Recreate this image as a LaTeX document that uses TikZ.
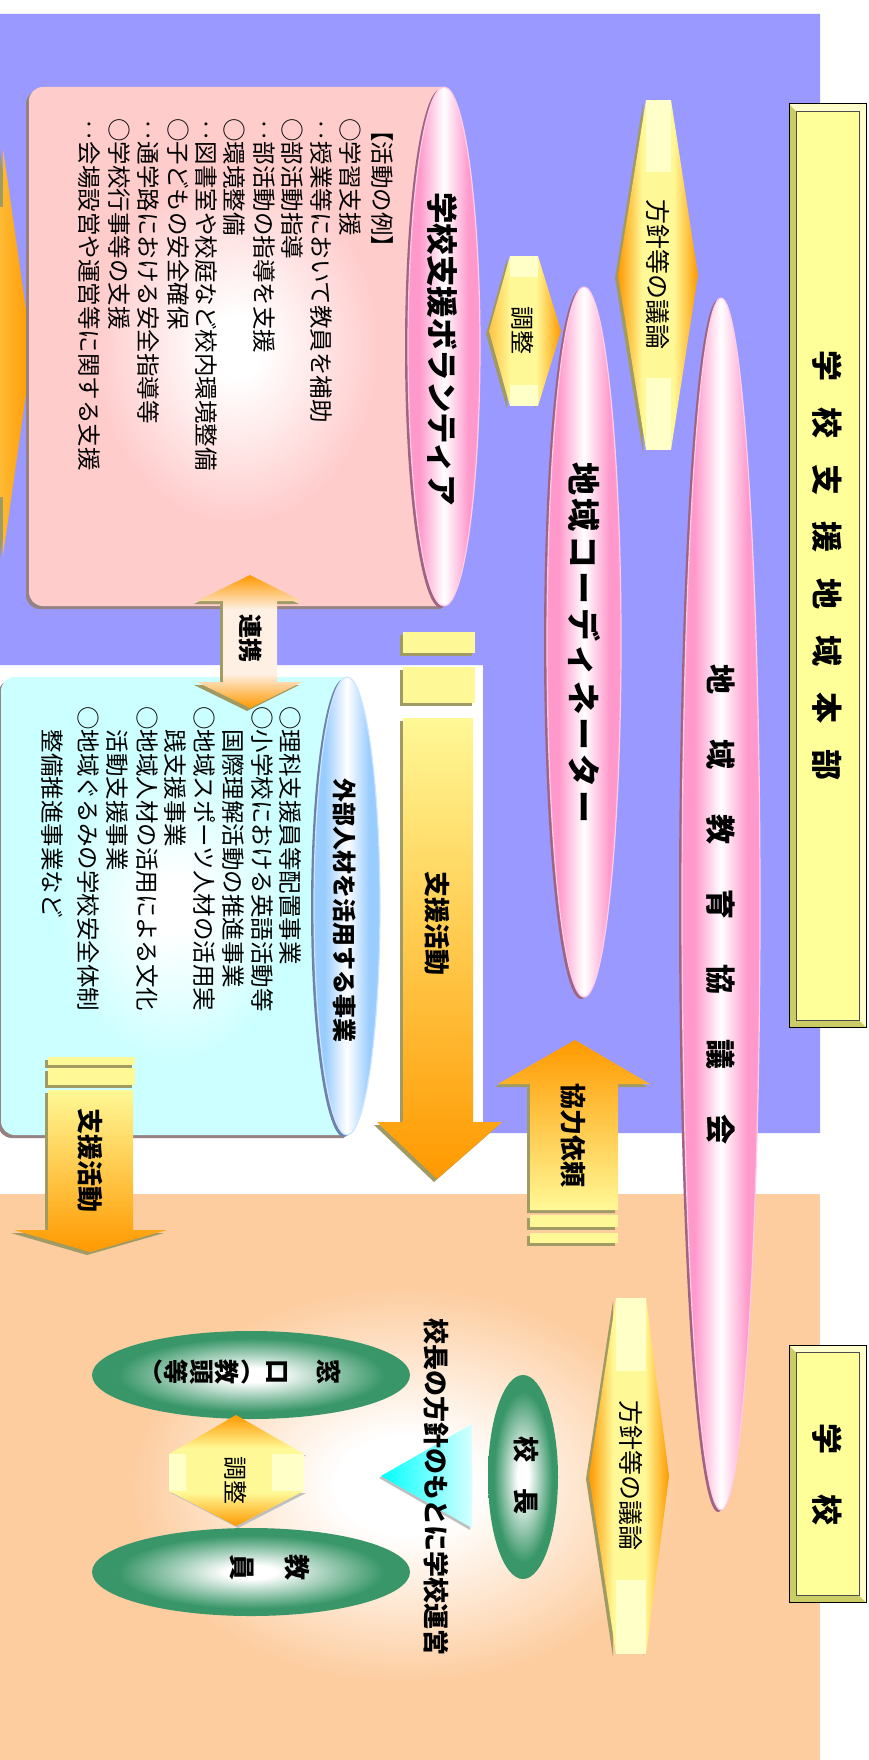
\documentclass[tikz,border=0pt]{standalone}
\usepackage{fontspec}
\setmainfont{Noto Sans CJK JP}
\usetikzlibrary{shadows}
\definecolor{bgblue}{RGB}{153,153,255}
\definecolor{bgpeach}{RGB}{253,205,160}
\definecolor{boxyellow}{RGB}{255,255,153}
\definecolor{bevdark}{RGB}{204,204,102}
\definecolor{bevlight}{RGB}{255,255,204}
\definecolor{pinkA}{RGB}{255,153,204}
\definecolor{pinkshadow}{RGB}{160,100,130}
\definecolor{bodypink}{RGB}{255,204,204}
\definecolor{bodycyan}{RGB}{204,255,255}
\definecolor{capblue}{RGB}{153,204,255}
\definecolor{capshadow}{RGB}{110,130,170}
\definecolor{orangeA}{RGB}{255,153,0}
\definecolor{paleyel}{RGB}{255,248,150}
\definecolor{notchyel}{RGB}{255,255,200}
\definecolor{paleor}{RGB}{255,240,228}
\definecolor{arrowshadow}{RGB}{160,155,100}
\definecolor{grn}{RGB}{56,150,104}
\definecolor{cyanA}{RGB}{0,255,255}
\definecolor{cyanB}{RGB}{215,255,255}
\definecolor{cylshadow}{RGB}{150,130,130}
% bounding box of a filled path = the 25bp..75bp square of the shading
\pgfdeclareradialshading{glowpink}{\pgfpoint{0bp}{0bp}}{color(0bp)=(white); color(3bp)=(white); color(17bp)=(bodypink); color(50bp)=(bodypink)}
\pgfdeclareradialshading{glowcyan}{\pgfpoint{0bp}{0bp}}{color(0bp)=(white); color(3bp)=(white); color(17bp)=(bodycyan); color(50bp)=(bodycyan)}
\pgfdeclareradialshading{glowpeach}{\pgfpoint{0bp}{0bp}}{color(0bp)=(white); color(6bp)=(white); color(24bp)=(bgpeach); color(50bp)=(bgpeach)}
\pgfdeclareradialshading{glowgreen}{\pgfpoint{0bp}{0bp}}{color(0bp)=(white); color(4bp)=(white); color(21bp)=(grn); color(50bp)=(grn)}
\pgfdeclarehorizontalshading{hsideor}{100bp}{color(0bp)=(orangeA); color(25bp)=(orangeA); color(40bp)=(paleyel); color(60bp)=(paleyel); color(75bp)=(orangeA); color(100bp)=(orangeA)}
\pgfdeclarehorizontalshading{hrightor}{100bp}{color(0bp)=(paleyel); color(25bp)=(orangeA!55!paleyel); color(40bp)=(paleyel); color(58bp)=(paleyel); color(75bp)=(orangeA); color(100bp)=(orangeA)}
\pgfdeclareverticalshading{vsideor}{100bp}{color(0bp)=(orangeA); color(25bp)=(orangeA); color(40bp)=(paleyel); color(60bp)=(paleyel); color(75bp)=(orangeA); color(100bp)=(orangeA)}
\pgfdeclareverticalshading{vrenkei}{100bp}{color(0bp)=(orangeA); color(25bp)=(orangeA); color(38bp)=(paleor); color(62bp)=(paleor); color(75bp)=(orangeA); color(100bp)=(orangeA)}
\pgfdeclarehorizontalshading{hpink}{100bp}{color(0bp)=(pinkA); color(33bp)=(pinkA); color(50bp)=(white); color(67bp)=(pinkA); color(100bp)=(pinkA)}
\pgfdeclarehorizontalshading{hblue}{100bp}{color(0bp)=(capblue); color(33bp)=(capblue); color(50bp)=(white); color(67bp)=(capblue); color(100bp)=(capblue)}
\newcommand{\fsz}[1]{\fontsize{#1}{#1}\selectfont}
\newcommand{\hsp}[1]{\hspace{#1pt}}
\begin{document}
\begin{tikzpicture}[x=1pt,y=-1pt,
  tx/.style={rotate=-90, inner sep=0pt, text=black},
  bt/.style={tx, font=\fsz{#1}\bfseries},
  rt/.style={tx, font=\fsz{#1}},
  lst/.style={tx, anchor=west, font=\fsz{23.5}},
  ash/.style={drop shadow={shadow xshift=-3pt, shadow yshift=-3pt, fill=arrowshadow, opacity=1}},
  pinkell/.style={shade, shading=hpink, draw=pinkA!50!white, line width=1.2pt, drop shadow={shadow xshift=-3pt, shadow yshift=-2pt, fill=pinkshadow, opacity=1}},
  blueell/.style={shade, shading=hblue, draw=capblue!50!white, line width=1.2pt, drop shadow={shadow xshift=-3pt, shadow yshift=-2pt, fill=capshadow, opacity=1}},
  greenell/.style={shade, shading=glowgreen},
  notch/.style={fill=notchyel},
  stripe/.style={ash, fill=paleyel},
]
\useasboundingbox (0,0) rectangle (868,1760);
\fill[white] (0,0) rectangle (868,1760);
% backgrounds
\fill[bgblue] (0,14) -- (820,14) -- (820,1133) -- (483,1133) -- (483,665) -- (0,665) -- cycle;
\fill[bgpeach] (0,1194) rectangle (820,1760);
\shade[shading=glowpeach] (120,1280) rectangle (690,1690);

% title boxes
\fill[boxyellow] (789,104) rectangle (866,1027);
\fill[bevdark] (789,104) -- (796,111) -- (796,1020) -- (789,1027) -- cycle;
\fill[bevdark] (789,1027) -- (796,1020) -- (859,1020) -- (866,1027) -- cycle;
\fill[bevlight] (789,104) -- (866,104) -- (859,111) -- (796,111) -- cycle;
\fill[bevlight] (866,104) -- (866,1027) -- (859,1020) -- (859,111) -- cycle;
\draw[black, line width=1pt] (789,104) rectangle (866,1027);
\draw[black!70, line width=0.6pt] (796,111) rectangle (859,1020);

\fill[boxyellow] (789,1345) rectangle (866,1602);
\fill[bevdark] (789,1345) -- (796,1352) -- (796,1595) -- (789,1602) -- cycle;
\fill[bevdark] (789,1602) -- (796,1595) -- (859,1595) -- (866,1602) -- cycle;
\fill[bevlight] (789,1345) -- (866,1345) -- (859,1352) -- (796,1352) -- cycle;
\fill[bevlight] (866,1345) -- (866,1602) -- (859,1595) -- (859,1352) -- cycle;
\draw[black, line width=1pt] (789,1345) rectangle (866,1602);
\draw[black!70, line width=0.6pt] (796,1352) rectangle (859,1595);

% pink ellipses
\path[pinkell] (721,904) ellipse [x radius=39pt, y radius=606pt];
\path[pinkell] (584,642) ellipse [x radius=37pt, y radius=355pt];

% upper arrows
\path[ash, shade, shading=hsideor]
  (618,275) -- (646,100) -- (646,172) -- (671,172) -- (671,100) -- (698,275) -- (671,450) -- (671,378) -- (646,378) -- (646,450) -- cycle;
\fill[notch] (646,100) rectangle (671,172);
\fill[notch] (646,378) rectangle (671,450);
\path[ash, shade, shading=hrightor]
  (489,331) -- (510,256) -- (510,277) -- (538,277) -- (538,256) -- (561,331) -- (538,406) -- (538,385) -- (510,385) -- (510,406) -- cycle;
\fill[notch] (510,256) rectangle (538,277);
\fill[notch] (510,385) rectangle (538,406);
% left edge arrow (cut off)
\path[ash, left color=paleyel, right color=orangeA]
  (-60,207) -- (3,207) -- (3,148) -- (32,352) -- (3,556) -- (3,497) -- (-60,497) -- cycle;

% volunteer cylinder
\path[shade, shading=glowpink, drop shadow={shadow xshift=-3pt, shadow yshift=-3pt, fill=cylshadow, opacity=1}]
  (444,87) -- (43,87) arc[start angle=90, end angle=180, radius=14pt] -- (29,592) arc[start angle=180, end angle=270, radius=14pt] -- (444,606) -- cycle;
\path[pinkell] (444,346.5) ellipse [x radius=36pt, y radius=259.5pt];

% external cylinder
\path[shade, shading=glowcyan, drop shadow={shadow xshift=-3pt, shadow yshift=-3pt, fill=cylshadow, opacity=1}]
  (347,677) -- (15,677) arc[start angle=90, end angle=180, radius=14pt] -- (1,1121) arc[start angle=180, end angle=270, radius=14pt] -- (347,1135) -- cycle;
\path[blueell] (347,906) ellipse [x radius=33pt, y radius=229pt];

% renkei arrow
\path[ash, shade, shading=vrenkei]
  (250,575) -- (302,601) -- (277,601) -- (277,682) -- (302,682) -- (250,708) -- (197,682) -- (223,682) -- (223,601) -- (197,601) -- cycle;

% big shien arrow
\path[stripe] (403,632) rectangle (475,653);
\path[stripe] (403,667) rectangle (475,703);
\path[ash, top color=paleyel, bottom color=orangeA]
  (403,718) -- (473,718) -- (473,1122) -- (502,1122) -- (437,1179) -- (377,1122) -- (403,1122) -- cycle;

% kyoryoku arrow
\path[ash, top color=orangeA, bottom color=paleyel]
  (575,1040) -- (650,1084) -- (618,1084) -- (618,1210) -- (530,1210) -- (530,1084) -- (498,1084) -- cycle;
\path[stripe] (530,1215) rectangle (618,1227);
\path[stripe] (530,1233) rectangle (618,1243);

% small shien arrow
\path[stripe] (48,1057) rectangle (135,1065);
\path[stripe] (48,1068) rectangle (135,1085);
\path[ash, top color=paleyel, bottom color=orangeA]
  (48,1090) -- (133,1090) -- (133,1230) -- (167,1230) -- (90,1252) -- (14,1230) -- (48,1230) -- cycle;

% school section
\path[ash, shade, shading=hsideor]
  (589,1476) -- (616,1298) -- (616,1371) -- (646,1371) -- (646,1298) -- (669,1476) -- (646,1654) -- (646,1580) -- (616,1580) -- (616,1654) -- cycle;
\fill[notch] (616,1298) rectangle (646,1371);
\fill[notch] (616,1580) rectangle (646,1654);
\path[greenell] (523,1477) ellipse [x radius=35pt, y radius=102pt];
\path[left color=cyanA, right color=cyanB, drop shadow={shadow xshift=-2pt, shadow yshift=-2pt, fill=black!25, opacity=1}]
  (381,1476) -- (472,1424) -- (472,1528) -- cycle;
\path[greenell] (251,1375) ellipse [x radius=159pt, y radius=44pt];
\path[greenell] (251,1572) ellipse [x radius=159pt, y radius=44pt];
\path[drop shadow={shadow xshift=2pt, shadow yshift=-2pt, fill=black!25, opacity=1}, shade, shading=vsideor]
  (236,1415) -- (304,1454) -- (272,1454) -- (272,1491) -- (304,1491) -- (236,1526) -- (169,1491) -- (186,1491) -- (186,1454) -- (169,1454) -- cycle;
\fill[notch] (169,1454) rectangle (186,1491);
\fill[notch] (272,1454) rectangle (304,1491);

% texts
\node[bt=31] (honbu) at (827.5,565.5) {学\hsp{26}校\hsp{26}支\hsp{26}援\hsp{26}地\hsp{26}域\hsp{26}本\hsp{26}部};
\node[bt=31] (gakko) at (827.5,1474) {学\hsp{40}校};
\node[bt=30] (kyogikai) at (721,904) {地\hsp{45}域\hsp{45}教\hsp{45}育\hsp{45}協\hsp{45}議\hsp{45}会};
\node[bt=33] (coord) at (584,643) {地\hsp{3.5}域\hsp{3.5}コ\hsp{3.5}ー\hsp{3.5}デ\hsp{3.5}ィ\hsp{3.5}ネ\hsp{3.5}ー\hsp{3.5}タ\hsp{3.5}ー};
\node[rt=25] (hoshin1) at (658,275) {方針等の議論};
\node[rt=24] (chosei1) at (523,331) {調整};
\node[bt=31.5] (volt) at (443,349) {学校支援ボランティア};
\node[bt=24] (renkei) at (251,638) {連携};
\node[bt=24] (gaibu) at (345,910) {外部人材を活用する事業};
\node[bt=26] (shien1) at (437,923) {支援活動};
\node[bt=26] (kyoryoku) at (573,1135) {協力依頼};
\node[bt=26] (shien2) at (90,1160) {支援活動};
\node[rt=25] (hoshin2) at (631,1475) {方針等の議論};
\node[bt=26] (kocho) at (526,1475) {校　長};
\node[bt=26] (unei) at (436,1487) {校長の方針のもとに学校運営};
\node[rt=24] (chosei2) at (236,1480) {調整};
\node[tx, font=\fontsize{25}{25.5}\selectfont\bfseries, align=center] (madoguchi) at (241,1372) {窓\\　\\口\\︵\\教\\頭\\等\\︶};
\node[tx, font=\fontsize{26}{27.5}\selectfont\bfseries, align=center] (kyoin) at (269.5,1567) {教\\　\\員};

% volunteer list
\node[lst] (v0) at (382,118) {【活動の例】};
\node[lst] (v1) at (350,118) {○学習支援};
\node[lst] (v2) at (321,118) {‥授業等において教員を補助};
\node[lst] (v3) at (292,118) {○部活動指導};
\node[lst] (v4) at (264,118) {‥部活動の指導を支援};
\node[lst] (v5) at (234,118) {○環境整備};
\node[lst] (v6) at (206,118) {‥図書室や校庭など校内環境整備};
\node[lst] (v7) at (178,118) {○子どもの安全確保};
\node[lst] (v8) at (148,118) {‥通学路における安全指導等};
\node[lst] (v9) at (119,118) {○学校行事等の支援};
\node[lst] (v10) at (89,118) {‥会場設営や運営等に関する支援};

% external list
\node[lst] (e1) at (290,706) {○理科支援員等配置事業};
\node[lst] (e2) at (262,706) {○小学校における英語活動等};
\node[lst] (e3) at (233,706) {　国際理解活動の推進事業};
\node[lst] (e4) at (204,706) {○地域スポーツ人材の活用実};
\node[lst] (e5) at (175,706) {　践支援事業};
\node[lst] (e6) at (147,706) {○地域人材の活用による文化};
\node[lst] (e7) at (117,706) {　活動支援事業};
\node[lst] (e8) at (88,706) {○地域ぐるみの学校安全体制};
\node[lst] (e9) at (52,706) {　整備推進事業など};
\end{tikzpicture}
\end{document}
